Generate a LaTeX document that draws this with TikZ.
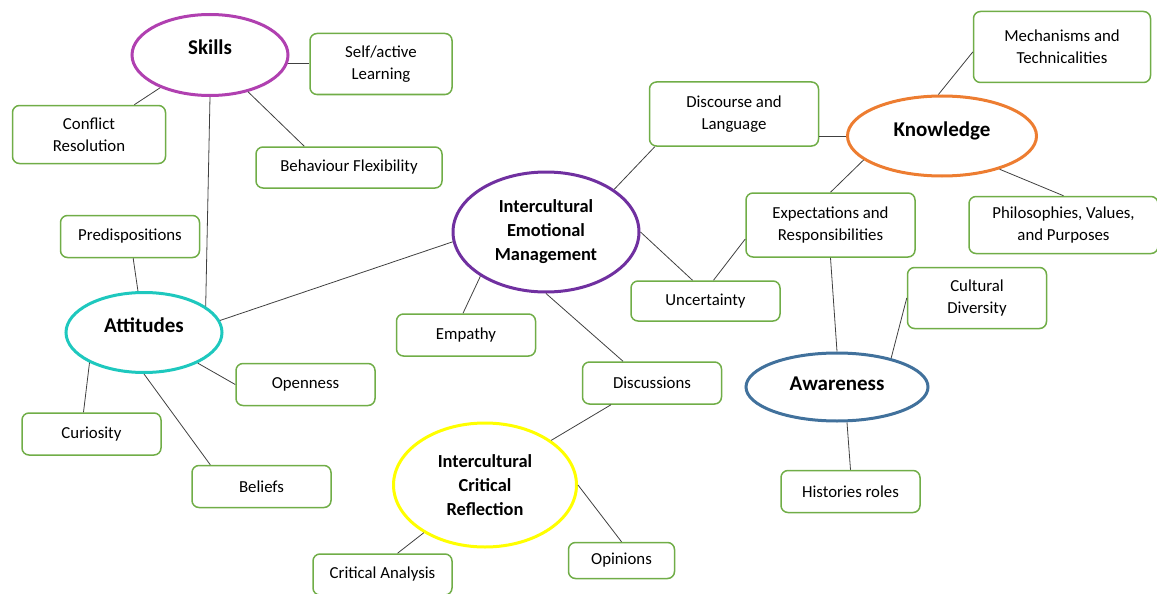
\documentclass[tikz,border=0pt]{standalone}
\usepackage{fontspec}
\setmainfont{Carlito}
\usetikzlibrary{shapes.geometric}
\definecolor{skillcol}{RGB}{176,64,176}
\definecolor{knowcol}{RGB}{237,125,49}
\definecolor{iemcol}{RGB}{112,48,160}
\definecolor{attcol}{RGB}{30,200,190}
\definecolor{awarecol}{RGB}{65,113,156}
\definecolor{icrcol}{RGB}{255,255,0}
\definecolor{boxgreen}{RGB}{112,173,71}
\definecolor{linegray}{RGB}{64,64,64}
\tikzstyle{hub} = [ellipse, line width = 3pt, inner sep = 0pt, align = center, text height = 15pt, text depth = 15pt, font = \bfseries\fontsize{21}{26}\selectfont]
\tikzstyle{bighub} = [ellipse, line width = 3pt, inner sep = 0pt, align = center, font = \bfseries\fontsize{18.4}{24}\selectfont]
\tikzstyle{leaf} = [rectangle, rounded corners = 7pt, line width = 1.5pt, draw = boxgreen, inner sep = 0pt, align = center, minimum width = 139pt, minimum height = 42pt]
\tikzstyle{link} = [line width = 0.8pt, draw = linegray]

\begin{document}
\begin{tikzpicture}[x = 1pt, y = -1pt, font = \fontsize{16.8}{22}\selectfont]
    \useasboundingbox (0,0) rectangle (1157,594);
    % \node(label)[style] at (x,y){text};
    \node(skills)[hub, draw = skillcol, minimum width = 156pt, minimum height = 81pt] at (210,55){Skills};
    \node(know)[hub, draw = knowcol, minimum width = 189pt, minimum height = 80pt] at (942,136){Knowledge};
    \node(iem)[bighub, draw = iemcol, minimum width = 186pt, minimum height = 120pt] at (546,232){Intercultural\\Emotional\\Management};
    \node(attitudes)[hub, draw = attcol, minimum width = 156pt, minimum height = 80pt] at (144,332.5){Attitudes};
    \node(aware)[hub, draw = awarecol, minimum width = 182pt, minimum height = 68pt, text depth = 9pt] at (837,387){Awareness};
    \node(icr)[bighub, draw = icrcol, minimum width = 183pt, minimum height = 124pt] at (485,485){Intercultural\\Critical\\Reflection};

    \node(selfl)[leaf, minimum width = 142pt, minimum height = 61pt] at (381,64){Self/active\\Learning};
    \node(conflict)[leaf, minimum width = 153pt, minimum height = 58pt] at (89,134.5){Conflict\\Resolution};
    \node(behav)[leaf, minimum width = 186pt, minimum height = 41pt] at (349,167.5){Behaviour Flexibility};
    \node(predis)[leaf] at (130,236.5){Predispositions};
    \node(discourse)[leaf, minimum width = 169pt, minimum height = 64pt] at (734,114){Discourse and\\Language};
    \node(mechan)[leaf, minimum width = 177pt, minimum height = 71pt] at (1062,47){Mechanisms and\\Technicalities};
    \node(expect)[leaf, minimum width = 169pt, minimum height = 64pt] at (830.5,225){Expectations and\\Responsibilities};
    \node(philos)[leaf, minimum width = 189pt, minimum height = 57pt] at (1063.5,225){Philosophies, Values,\\and Purposes};
    \node(uncert)[leaf, minimum width = 149pt, minimum height = 40pt] at (705.5,301){Uncertainty};
    \node(cultural)[leaf, minimum height = 61pt] at (977,298){Cultural\\Diversity};
    \node(empathy)[leaf] at (466,335){Empathy};
    \node(openness)[leaf] at (305.5,384.5){Openness};
    \node(discuss)[leaf] at (652,383){Discussions};
    \node(curiosity)[leaf] at (91.5,434){Curiosity};
    \node(beliefs)[leaf] at (261.5,486.5){Beliefs};
    \node(histories)[leaf] at (850.5,491.5){Histories roles};
    \node(opinions)[leaf, minimum width = 106pt, minimum height = 36pt] at (621.5,560.5){Opinions};
    \node(critan)[leaf, minimum height = 41pt] at (382.5,574.5){Critical Analysis};

    \draw[link](skills.354)--(skills.354 -| selfl.west);
    \draw[link](skills)--(conflict);
    \draw[link](skills)--([xshift = 49pt]behav.north west);
    \draw[link](skills.south)--(attitudes.23);
    \draw[link](predis)--(attitudes);
    \draw[link](attitudes.9)--(iem.186);
    \draw[link](attitudes)--(openness.west);
    \draw[link](attitudes.209)--([xshift = -8pt]curiosity.north);
    \draw[link](attitudes.south)--([xshift = 19pt]beliefs.north west);
    \draw[link](iem.32)--([xshift = 6pt]discourse.south west);
    \draw[link](iem.east)--([xshift = -13pt]uncert.north);
    \draw[link]([xshift = 8pt]uncert.north)--([yshift = -14pt]expect.west);
    \draw[link](iem.214)--([xshift = -3pt]empathy.north);
    \draw[link](iem.south)--([xshift = -29pt]discuss.north);
    \draw[link]([xshift = -41pt]discuss.south)--(icr.34);
    \draw[link](icr)--([xshift = 15pt]critan.north);
    \draw[link](icr.east)--(opinions.north);
    \draw[link](know.west)--(know.west -| discourse.east);
    \draw[link](know.95)--([yshift = -5pt]mechan.west);
    \draw[link](know.197)--(expect.north);
    \draw[link](know.330)--(philos.north);
    \draw[link](expect.south)--(aware.north);
    \draw[link](aware.28)--(cultural.west);
    \draw[link]([xshift = 10pt]aware.south)--(histories.north);
\end{tikzpicture}
\end{document}
